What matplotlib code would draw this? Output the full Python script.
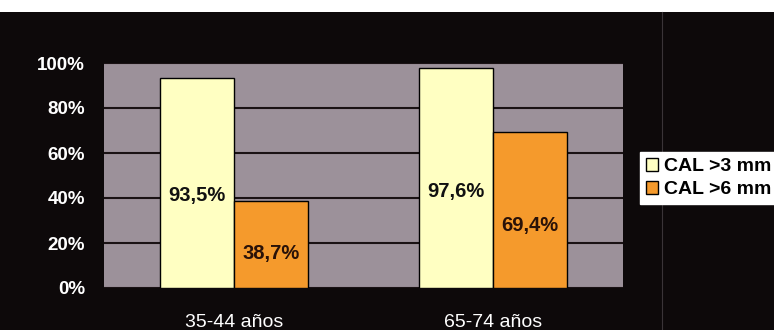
import matplotlib.pyplot as plt
import numpy as np

# datos
grupos = ["35-44 años", "65-74 años"]
cal3 = [93.5, 97.6]
cal6 = [38.7, 69.4]
etiquetas3 = ["93,5%", "97,6%"]
etiquetas6 = ["38,7%", "69,4%"]
series = ["CAL >3 mm", "CAL >6 mm"]
yticks = [0, 20, 40, 60, 80, 100]

plt.rcParams['font.family'] = ['Liberation Sans', 'DejaVu Sans']

fig = plt.figure(figsize=(7.74, 3.30), dpi=100, facecolor='#0d090a')
ax = fig.add_axes([104 / 774, 42 / 330, 519 / 774, 225 / 330])
ax.set_facecolor('#9c919a')

# franja blanca arriba
fig.patches.append(plt.Rectangle((0, 318 / 330), 1, 12 / 330, transform=fig.transFigure,
                                 facecolor='white', edgecolor='none', zorder=0))
# linea tenue a la derecha
fig.add_artist(plt.Line2D([662 / 774, 662 / 774], [0, 318 / 330], transform=fig.transFigure,
                          color='#3a3438', lw=0.8, zorder=1))

x = np.arange(len(grupos))
w = 0.285
b1 = ax.bar(x - w / 2, cal3, w, color='#ffffc2', edgecolor='black', lw=1, label=series[0], zorder=3)
b2 = ax.bar(x + w / 2, cal6, w, color='#f59a2c', edgecolor='black', lw=1, label=series[1], zorder=3)

for i in range(len(grupos)):
    ax.text(x[i] - w / 2, cal3[i] * 0.44, etiquetas3[i], ha='center', va='center',
            fontsize=14.5, fontweight='bold', color='#111111', zorder=4)
    ax.text(x[i] + w / 2, cal6[i] * 0.40, etiquetas6[i], ha='center', va='center',
            fontsize=14.5, fontweight='bold', color='#2a1208', zorder=4)

ax.set_xlim(-0.5, 1.5)
ax.set_ylim(0, 100)
ax.set_yticks(yticks)
ax.set_yticklabels([str(t) + "%" for t in yticks], fontsize=13.5, fontweight='bold', color='white')
ax.set_xticks(x)
ax.set_xticklabels(grupos, fontsize=14, color='white')
ax.tick_params(length=0)
ax.tick_params(axis='y', pad=13.5)
ax.tick_params(axis='x', pad=18.5)
ax.yaxis.grid(True, color='#1a1214', lw=1.5, zorder=1)
for s in ax.spines.values():
    s.set_visible(False)

leg = fig.legend(loc='upper left', bbox_to_anchor=(640 / 774, 1 - 152 / 330),
                 fontsize=14, frameon=True, fancybox=False, handlelength=0.65, handleheight=0.65,
                 handletextpad=0.3, borderpad=0.3, labelspacing=0.3, borderaxespad=0)
leg.get_frame().set_facecolor('white')
leg.get_frame().set_edgecolor('white')
leg.get_frame().set_alpha(1)
leg.set_zorder(10)
for t in leg.get_texts():
    t.set_fontweight('bold')

fig.savefig("out.png", dpi=100, facecolor=fig.get_facecolor())
